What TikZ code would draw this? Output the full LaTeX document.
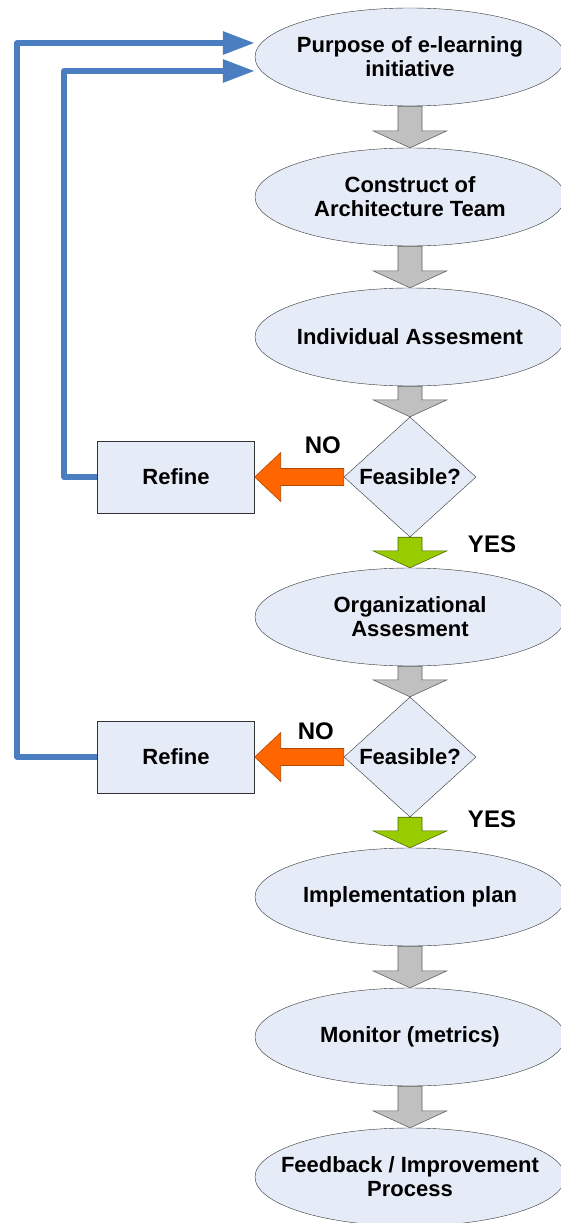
\documentclass[tikz,border=0pt]{standalone}
\usepackage{fontspec}
\setmainfont{Liberation Sans}
\usetikzlibrary{shapes.geometric, arrows.meta, calc}

\definecolor{bubble}{RGB}{230,236,247}
\definecolor{loopblue}{RGB}{74,126,193}
\definecolor{stepgray}{RGB}{192,192,192}
\definecolor{nogo}{RGB}{255,102,0}
\definecolor{go}{RGB}{153,204,0}

\tikzstyle{stage} = [ellipse, draw=black!80, fill=bubble, minimum width=310pt, minimum height=98pt, inner xsep=-30pt, inner ysep=0pt, align=center, font=\bfseries\fontsize{22}{24}\selectfont]
\tikzstyle{decision} = [diamond, draw=black!80, fill=bubble, minimum width=132pt, minimum height=120pt, inner sep=0pt, font=\bfseries\fontsize{22}{24}\selectfont]
\tikzstyle{refine} = [rectangle, draw=black!80, fill=bubble, minimum width=157pt, minimum height=72pt, font=\bfseries\fontsize{22}{24}\selectfont]
\tikzstyle{answer} = [draw=none, font=\bfseries\fontsize{24}{26}\selectfont]
\tikzstyle{feedback} = [line width=6pt, color=loopblue, line join=round, -{Triangle[length=32pt,width=22pt]}]

% fat arrow pointing down, from south of #2 to north of #3
\newcommand{\blockdown}[3]{%
  \draw[draw=#1!50!black, fill=#1, line width=0.6pt] let \p1=(#2.south), \p2=(#3.north) in
    (\x1-12pt,\y1) -- (\x1+12pt,\y1) -- (\x1+12pt,\y2+17pt) -- (\x1+37pt,\y2+17pt)
    -- (\x1,\y2) -- (\x1-37pt,\y2+17pt) -- (\x1-12pt,\y2+17pt) -- cycle;}
% fat arrow pointing left, from west of #2 to east of #3
\newcommand{\blockleft}[3]{%
  \draw[draw=#1!70!black, fill=#1, line width=0.6pt] let \p1=(#2.west), \p2=(#3.east) in
    (\x1,\y1+8.5pt) -- (\x1,\y1-8.5pt) -- (\x2+26pt,\y1-8.5pt) -- (\x2+26pt,\y1-24.5pt)
    -- (\x2,\y1) -- (\x2+26pt,\y1+24.5pt) -- (\x2+26pt,\y1+8.5pt) -- cycle;}

\begin{document}
\begin{tikzpicture}[x=1pt, y=-1pt, node distance=140pt]
		\useasboundingbox (0,0) rectangle (560,1223);

		\node (purpose) [stage] at (410,57) {Purpose of e-learning\\initiative};
		\node (team) [stage, below of=purpose] {Construct of\\Architecture Team};
		\node (indiv) [stage, below of=team] {Individual Assesment};
		\node (feas1) [decision, below of=indiv] {Feasible?};
		\node (org) [stage, below of=feas1] {Organizational\\Assesment};
		\node (feas2) [decision, below of=org] {Feasible?};
		\node (plan) [stage, below of=feas2] {Implementation plan};
		\node (monitor) [stage, below of=plan] {Monitor (metrics)};
		\node (improve) [stage, below of=monitor] {Feedback / Improvement\\Process};

		\node (refine1) [refine, left of=feas1, node distance=234pt] {Refine};
		\node (refine2) [refine, left of=feas2, node distance=234pt] {Refine};

		\node (no1) [answer, xshift=-21pt, yshift=32pt] at (feas1.west) {NO};
		\node (no2) [answer, xshift=-28pt, yshift=26pt] at (feas2.west) {NO};
		\node (yes1) [answer, xshift=82pt, yshift=-7pt] at (feas1.south) {YES};
		\node (yes2) [answer, xshift=82pt, yshift=-2pt] at (feas2.south) {YES};

		\blockdown{stepgray}{purpose}{team}
		\blockdown{stepgray}{team}{indiv}
		\blockdown{stepgray}{indiv}{feas1}
		\blockdown{go}{feas1}{org}
		\blockdown{stepgray}{org}{feas2}
		\blockdown{go}{feas2}{plan}
		\blockdown{stepgray}{plan}{monitor}
		\blockdown{stepgray}{monitor}{improve}

		\blockleft{nogo}{feas1}{refine1}
		\blockleft{nogo}{feas2}{refine2}

		\draw [feedback] (refine1.west) -- ++(-33,0) |- ([yshift=-14pt]purpose.west);
		\draw [feedback] (refine2.west) -- ++(-80,0) |- ([yshift=14pt]purpose.west);

		\end{tikzpicture}
\end{document}
